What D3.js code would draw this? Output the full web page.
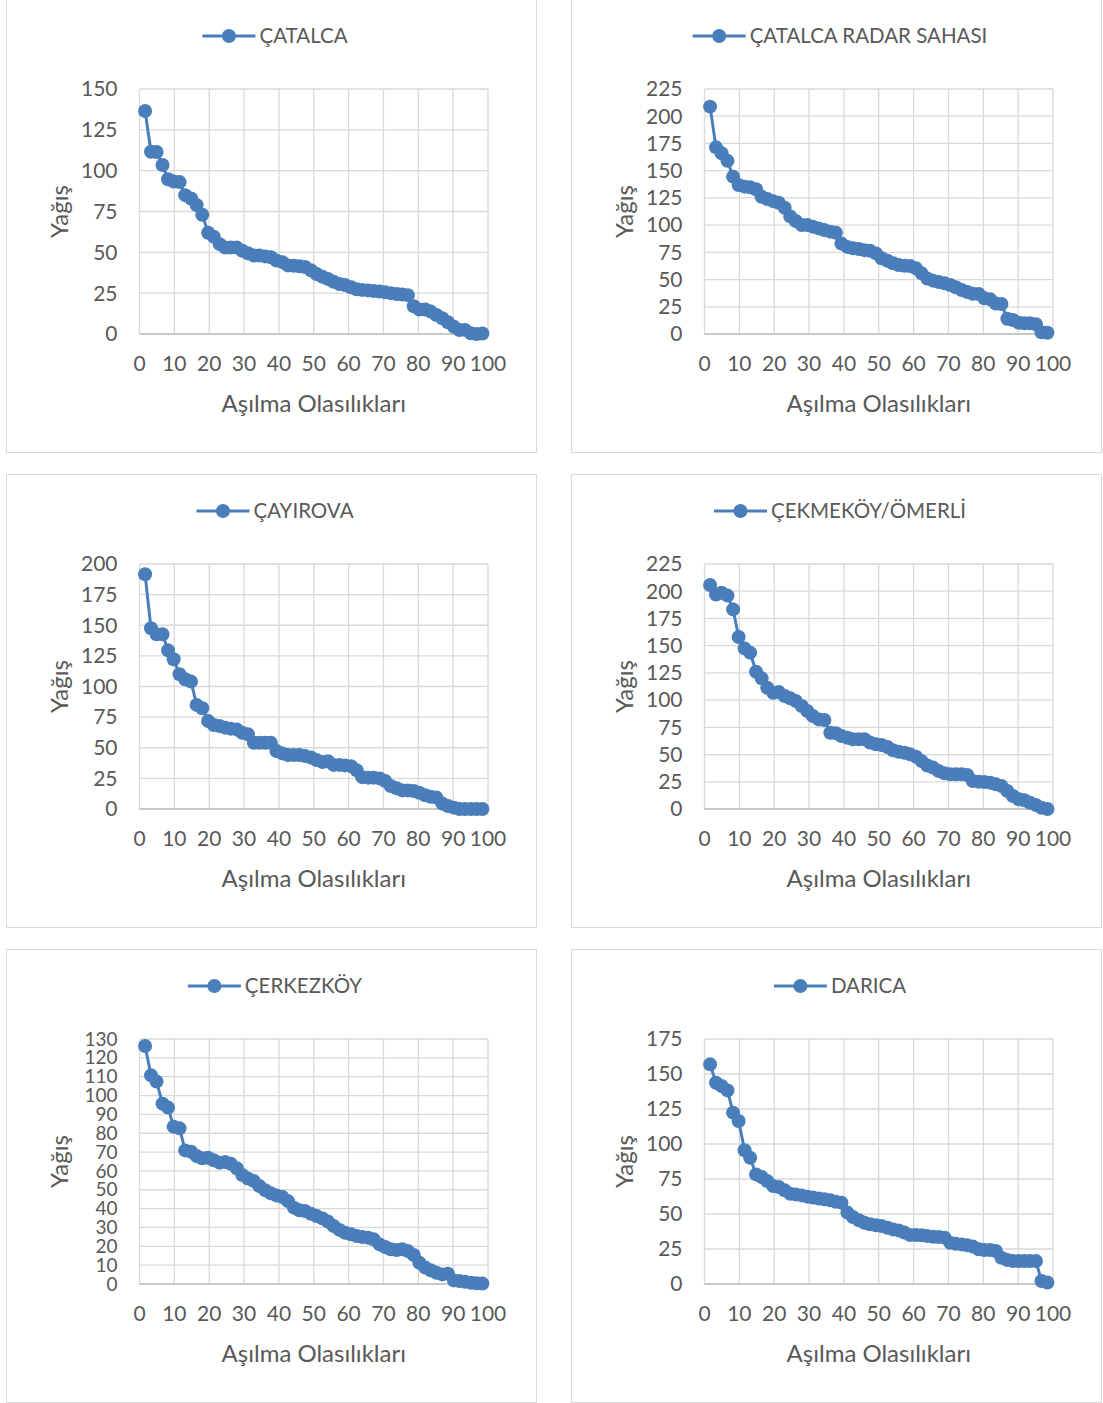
<!DOCTYPE html>
<html>
<head>
<meta charset="utf-8">
<script src="https://cdn.jsdelivr.net/npm/d3@7/dist/d3.min.js"></script>
<style>
  body { margin: 0; background: #fff; }
  svg text { font-family: Lato, "Noto Sans", sans-serif; fill: #595959; }
</style>
</head>
<body>
<svg id="chart" width="1103" height="1403"></svg>
<script>
// exceedance probabilities (%), same for every station
var exceedance = [1.6, 3.3, 4.9, 6.6, 8.2, 9.8, 11.5, 13.1, 14.8, 16.4, 18.0, 19.7, 21.3, 23.0, 24.6,
  26.2, 27.9, 29.5, 31.1, 32.8, 34.4, 36.1, 37.7, 39.3, 41.0, 42.6, 44.3, 45.9, 47.5, 49.2,
  50.8, 52.5, 54.1, 55.7, 57.4, 59.0, 60.7, 62.3, 63.9, 65.6, 67.2, 68.9, 70.5, 72.1, 73.8,
  75.4, 77.0, 78.7, 80.3, 82.0, 83.6, 85.2, 86.9, 88.5, 90.2, 91.8, 93.4, 95.1, 96.7, 98.4];

var stations = ["ÇATALCA", "ÇATALCA RADAR SAHASI", "ÇAYIROVA", "ÇEKMEKÖY/ÖMERLİ", "ÇERKEZKÖY", "DARICA"];

var catalca = [136.5, 111.6, 111.4, 103.5, 94.7, 93.3, 93, 85, 83, 79, 73, 62, 59.6, 55, 53,
  53, 53, 51, 49.4, 48, 48, 47.5, 47, 45, 44, 42, 41.8, 41.5, 41, 39,
  36.7, 35, 33.7, 32, 30.6, 30, 28.6, 27.4, 27, 26.7, 26.3, 26, 25.5, 25, 24.5,
  24.2, 23.8, 17, 15, 15, 13.7, 11.6, 9.6, 7.2, 4.5, 2.4, 2.5, 0.4, 0, 0.3];

var catalcaRadar = [208.8, 171.4, 166, 159, 144.5, 136.8, 135.3, 134.7, 133, 126, 124, 122, 120.6, 116, 108,
  103.8, 100, 100, 98.6, 97, 95.5, 94, 93, 83, 80, 78.7, 78, 77, 76.5, 74,
  69.5, 67.3, 65, 63.4, 62.7, 62.4, 60.3, 55.7, 51, 49, 47.8, 46.5, 45, 42.9, 40.4,
  38.6, 37, 36.7, 32.8, 31.8, 28, 27.5, 14, 12.9, 10.4, 9.8, 9.8, 8.9, 1.5, 1.2];

var cayirova = [191.6, 147.5, 142.6, 142.6, 129.5, 122.2, 110, 105.9, 104, 85, 82.2, 71.8, 68.6, 67.8, 66.4,
  65.6, 65, 62.3, 61, 54.1, 54.1, 54.1, 54, 47.3, 45.4, 44, 44, 44, 43.3, 42,
  40, 38.4, 39, 36, 36, 35.6, 35, 31.6, 26, 25.6, 25.6, 25, 22.9, 18.8, 16.9,
  15.2, 15.2, 14.7, 13.3, 11.2, 10, 9.3, 4.4, 2.4, 1.1, 0, 0, 0, 0, 0];

var cekmekoy = [205.7, 197, 198.7, 196, 183.3, 158, 147.5, 143.6, 126, 120, 111.4, 106.8, 107.4, 103.8, 101.6,
  99.2, 94.6, 90, 85.4, 82.3, 81.7, 70, 69.5, 67, 65.5, 64, 64, 64, 61, 59.4,
  58.8, 57, 53.9, 52.6, 51.7, 50.2, 48, 44, 40, 38, 34.9, 32.8, 31.8, 31.8, 31.8,
  31.2, 25.7, 25.1, 24.8, 24.2, 22.7, 21.1, 16.5, 11.9, 8.9, 8, 5.8, 3.7, 1.2, 0];

var cerkezkoy = [126.3, 110.7, 107.4, 95.7, 93.6, 83.5, 82.6, 70.9, 70.2, 67.9, 66.7, 67, 65.6, 64.4, 64.7,
  63.8, 61.4, 57.8, 56, 54.6, 52, 49.7, 48.1, 47, 46.2, 44, 40.5, 39.1, 38.7, 37.3,
  36.1, 34.8, 33.1, 30.8, 28.7, 27.2, 26.4, 25.5, 24.9, 24.6, 23.7, 21, 19.6, 18.4, 18,
  18.4, 17.5, 15.4, 11.3, 8.7, 7.3, 6, 5.1, 5.5, 1.9, 1.6, 1.2, 0.7, 0.4, 0.2];

var darica = [156.9, 143.8, 141.4, 138.3, 122.4, 116.4, 95.5, 90.2, 78.3, 76.4, 73.6, 70, 69.3, 66.9, 64.5,
  64, 63.3, 62.4, 61.7, 61, 60.5, 59.8, 58.8, 58.1, 51, 47.9, 45.5, 43.8, 42.6, 41.9,
  41.4, 40.2, 39, 38.3, 36.7, 35, 35, 34.8, 34.3, 33.8, 33.6, 33.1, 29.5, 28.8, 28.3,
  27.6, 26.7, 24.8, 24.3, 24.3, 23.6, 18.8, 17.1, 16.4, 16.4, 16.4, 16.4, 16.4, 2.1, 1];

var seriesList = [catalca, catalcaRadar, cayirova, cekmekoy, cerkezkoy, darica];
var yMax = [150, 225, 200, 225, 130, 175];
var yStep = [25, 25, 25, 25, 10, 25];
var xTicks = [0, 10, 20, 30, 40, 50, 60, 70, 80, 90, 100];

var svg = d3.select("#chart");
var blue = "#4a7ebb";
var colX = [6, 571], rowY = [-1, 474, 949];
var panelW = 530, panelH = 453;

seriesList.forEach(function(values, k) {
   var px = colX[k % 2], py = rowY[Math.floor(k / 2)];
   var g = svg.append("g").attr("transform", "translate(" + px + "," + py + ")");

   g.append("rect")
      .attr("x", 0.5).attr("y", 0.5)
      .attr("width", panelW).attr("height", panelH)
      .attr("fill", "#fff").attr("stroke", "#d9d9d9").attr("stroke-width", 1);

   var left = 133.5, right = 482, top = 90, bottom = 335;
   var x = d3.scaleLinear().domain([0, 100]).range([left, right]);
   var y = d3.scaleLinear().domain([0, yMax[k]]).range([bottom, top]);
   var yTicks = d3.range(0, yMax[k] + 0.001, yStep[k]);

   // grid
   g.selectAll(".hg").data(yTicks).enter().append("line")
      .attr("x1", left).attr("x2", right)
      .attr("y1", function(d) { return y(d); }).attr("y2", function(d) { return y(d); })
      .attr("stroke", "#d9d9d9").attr("stroke-width", 1.3);
   g.selectAll(".vg").data(xTicks).enter().append("line")
      .attr("y1", top).attr("y2", bottom)
      .attr("x1", function(d) { return x(d); }).attr("x2", function(d) { return x(d); })
      .attr("stroke", "#d9d9d9").attr("stroke-width", 1.3);
   g.append("line")
      .attr("x1", left).attr("x2", right).attr("y1", bottom).attr("y2", bottom)
      .attr("stroke", "#bfbfbf").attr("stroke-width", 1.6);

   // tick labels (Çerkezköy's 10-step labels are packed tight, as in the original)
   g.selectAll(".yt").data(yTicks).enter().append("text")
      .attr("x", left - 22).attr("y", function(d) { return y(d); })
      .attr("dy", "0.35em").attr("text-anchor", "end")
      .style("font-size", yStep[k] < 20 ? "19px" : "21px")
      .text(function(d) { return d; });
   g.selectAll(".xt").data(xTicks).enter().append("text")
      .attr("x", function(d) { return x(d); }).attr("y", bottom + 37)
      .attr("text-anchor", "middle")
      .style("font-size", "21px")
      .text(function(d) { return d; });

   // axis titles
   g.append("text")
      .attr("x", (left + right) / 2).attr("y", bottom + 78)
      .attr("text-anchor", "middle").style("font-size", "24px")
      .text("Aşılma Olasılıkları");
   g.append("text")
      .attr("transform", "translate(62," + ((top + bottom) / 2) + ") rotate(-90)")
      .attr("text-anchor", "middle").style("font-size", "24px")
      .text("Yağış");

   // series
   var pts = values.map(function(v, i) { return [exceedance[i], v]; });
   g.append("path")
      .datum(pts)
      .attr("fill", "none").attr("stroke", blue).attr("stroke-width", 3)
      .attr("stroke-linejoin", "round")
      .attr("d", d3.line().x(function(d) { return x(d[0]); }).y(function(d) { return y(d[1]); }));
   g.selectAll(".pt").data(pts).enter().append("circle")
      .attr("cx", function(d) { return x(d[0]); })
      .attr("cy", function(d) { return y(d[1]); })
      .attr("r", 7).attr("fill", blue);

   // legend
   var lg = g.append("g");
   var lt = lg.append("text").attr("x", 57).attr("y", 0).attr("dy", "0.35em")
      .style("font-size", "20.5px").text(stations[k]);
   lg.append("line").attr("x1", 0).attr("x2", 53).attr("y1", 0).attr("y2", 0)
      .attr("stroke", blue).attr("stroke-width", 3);
   lg.append("circle").attr("cx", 26.5).attr("cy", 0).attr("r", 7).attr("fill", blue);
   var w = 57 + lt.node().getComputedTextLength();
   lg.attr("transform", "translate(" + (panelW / 2 + 4 - w / 2) + ",37)");
});
</script>
</body>
</html>
